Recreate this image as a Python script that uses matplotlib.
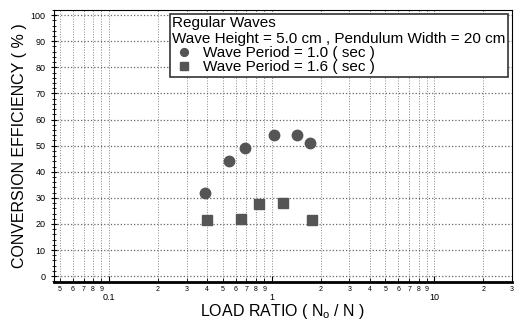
import matplotlib.pyplot as plt
from matplotlib.ticker import FixedLocator, FixedFormatter, MultipleLocator

plt.rcParams['font.family'] = ['Liberation Sans', 'DejaVu Sans']

# load ratio vs conversion efficiency
load_t10 = [0.39, 0.55, 0.69, 1.03, 1.44, 1.73]
eff_t10 = [32, 44, 49, 54, 54, 51]
load_t16 = [0.40, 0.65, 0.84, 1.17, 1.76]
eff_t16 = [21.5, 22, 27.5, 28, 21.5]

fig = plt.figure(figsize=(5.15, 3.21), dpi=100)
ax = fig.add_axes([0.105, 0.121, 0.889, 0.848])

ax.plot(load_t10, eff_t10, 'o', color='#555555', ms=7.5, mec='#555555',
        label='Wave Period = 1.0 ( sec )')
ax.plot(load_t16, eff_t16, 's', color='#555555', ms=7.5, mec='#555555',
        label='Wave Period = 1.6 ( sec )')

ax.set_xscale('log')
ax.set_xlim(0.046, 30)
ax.set_ylim(-2.3, 102)

# y ticks
ax.yaxis.set_major_locator(MultipleLocator(10))
ax.yaxis.set_minor_locator(MultipleLocator(2))
ax.tick_params(axis='y', which='major', labelsize=6.5, direction='inout', length=5, width=0.8)
ax.tick_params(axis='y', which='minor', direction='inout', length=3, width=0.6)

# x ticks: major decades labelled lower, minor digits labelled small
ax.xaxis.set_major_locator(FixedLocator([0.1, 1, 10]))
ax.xaxis.set_major_formatter(FixedFormatter(['0.1', '1', '10']))
minors = []
minor_lbls = []
for dec in [0.01, 0.1, 1, 10]:
    for k in range(2, 10):
        v = k * dec
        if 0.046 <= v <= 30:
            minors.append(v)
            minor_lbls.append(str(k))
ax.xaxis.set_minor_locator(FixedLocator(minors))
ax.xaxis.set_minor_formatter(FixedFormatter(minor_lbls))
ax.tick_params(axis='x', which='major', labelsize=6.5, pad=8, direction='in', length=4)
ax.tick_params(axis='x', which='minor', labelsize=5, pad=2.5, direction='in', length=3)

ax.grid(True, axis='x', which='both', linestyle=':', color='#888888', linewidth=0.7)
ax.grid(True, axis='y', which='major', linestyle=':', color='#666666', linewidth=0.9)
ax.set_axisbelow(True)

for s in ax.spines.values():
    s.set_linewidth(0.8)
ax.spines['bottom'].set_linewidth(2)

ax.set_ylabel('CONVERSION EFFICIENCY ( % )', fontsize=11.5, labelpad=3)
ax.set_xlabel(r'LOAD RATIO ( N$_\mathregular{o}$ / N )', fontsize=11.5)
ax.xaxis.set_label_coords(0.5, -0.072)

leg = ax.legend(title='Regular Waves\nWave Height = 5.0 cm , Pendulum Width = 20 cm',
                loc='upper right', fontsize=11, title_fontsize=11, alignment='left',
                fancybox=False, framealpha=1, edgecolor='#333333',
                borderpad=0.15, handletextpad=0.5, labelspacing=0.0,
                borderaxespad=0.25, handlelength=1.5, markerscale=0.75)
leg.get_frame().set_linewidth(1.2)

fig.savefig('out.png', dpi=100)
